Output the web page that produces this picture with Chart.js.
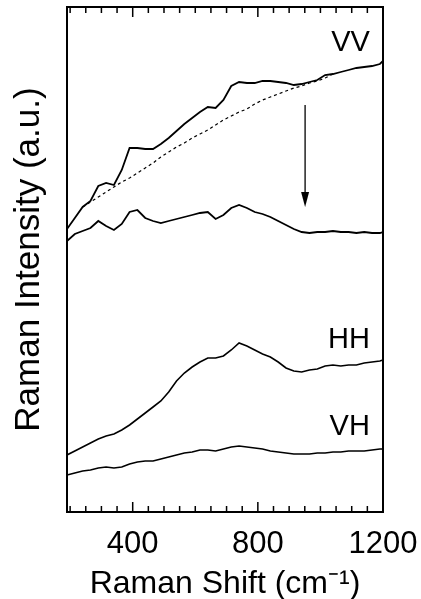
<!DOCTYPE html>
<html><head><meta charset="utf-8">
<script src="https://cdn.jsdelivr.net/npm/chart.js@4/dist/chart.umd.min.js"></script>
<style>html,body{margin:0;padding:0;background:#fff}#wrap{width:421px;height:599px}</style>
</head><body><div id="wrap"><canvas id="c" width="421" height="599"></canvas></div>
<script>
// Raman shift grid (cm-1)
const shifts = [190,215,240,265,290,315,340,365,390,415,440,465,490,515,540,565,590,615,640,665,690,715,740,765,790,815,840,865,890,915,940,965,990,1015,1040,1065,1090,1115,1140,1165,1190,1200];
// VV raw spectrum
const vvRaw = [283,294,305,311,326,329,327,342,364,364,363,363,368,374,381,388,394,400,405,404,412,426,430,429,429,431,431,430,429,427,428,430,432,437,438,440,442,444,445,446,448,451];
// VV after background subtraction
const vvSub = [271,278,281,284,291,286,282,288,300,302,294,291,289,291,293,295,297,299,300,293,297,304,307,304,300,298,295,291,287,283,280,279,280,280,281,280,280,279,280,279,279,280];
// fitted background (dashed)
const vvBackground = [null,null,305,310,315,320,325,330,334,339,344,349,355,360,365,369,374,378,382,387,392,396,400,403,408,412,415,418,421,424,426,429,431,434,438,null,null,null,null,null,null,null];
// HH spectrum
const hh = [57,61,65,69,73,76,78,82,87,93,99,105,111,120,131,139,145,150,154,154,156,162,169,166,162,158,155,150,144,141,140,142,143,146,147,146,147,147,149,150,151,152];
// VH spectrum
const vh = [37,39,41,42,44,45,44,45,48,50,51,51,53,55,57,59,60,62,62,61,63,65,66,65,64,63,61,60,59,58,58,58,59,59,60,60,61,61,61,62,63,63];

const xTickLabels = [400, 800, 1200];
const minorTicks = [200,250,300,350,400,450,500,550,600,650,700,750,800,850,900,950,1000,1050,1100,1150,1200];
const curveNames = ['VV','HH','VH'];
const curveNameX = 1158;
const curveNameY = [461, 164, 77];
const arrowX = 951, arrowFrom = 407, arrowTo = 305;

const FONT = "'Liberation Sans', Arial, Helvetica, sans-serif";

function pts(arr){ return shifts.map((s,i)=>({x:s, y:arr[i]})); }

const ds = (arr, extra) => Object.assign({
  data: pts(arr), borderColor:'#000', borderWidth:1.6, pointRadius:0, fill:false, tension:0, spanGaps:false
}, extra||{});

const decor = {
  id:'decor',
  afterDatasetsDraw(chart){
    const {ctx, chartArea:a, scales:{x,y}} = chart;
    ctx.save();
    ctx.strokeStyle='#000'; ctx.fillStyle='#000';
    ctx.lineWidth=1.5;
    minorTicks.forEach(v=>{
      const px = x.getPixelForValue(v);
      const len = xTickLabels.includes(v) ? 10 : 6;
      ctx.beginPath();
      ctx.moveTo(px, a.bottom); ctx.lineTo(px, a.bottom-len);
      ctx.moveTo(px, a.top); ctx.lineTo(px, a.top+len);
      ctx.stroke();
    });
    ctx.lineWidth=2;
    ctx.strokeRect(a.left, a.top, a.right-a.left, a.bottom-a.top);
    const ax = x.getPixelForValue(arrowX);
    const y0 = y.getPixelForValue(arrowFrom), y1 = y.getPixelForValue(arrowTo);
    ctx.lineWidth=1.3;
    ctx.beginPath(); ctx.moveTo(ax, y0); ctx.lineTo(ax, y1-12); ctx.stroke();
    ctx.beginPath(); ctx.moveTo(ax-4, y1-15); ctx.lineTo(ax+4, y1-15); ctx.lineTo(ax, y1); ctx.closePath(); ctx.fill();
    ctx.font = "29px " + FONT;
    ctx.textAlign='right'; ctx.textBaseline='alphabetic';
    curveNames.forEach((n,i)=>{
      ctx.fillText(n, x.getPixelForValue(curveNameX), y.getPixelForValue(curveNameY[i]));
    });
    ctx.restore();
  }
};

new Chart(document.getElementById('c'), {
  type:'line',
  data:{ datasets:[
    ds(vvRaw, {borderWidth:1.8}),
    ds(vvBackground, {borderWidth:1.2, borderDash:[3,3]}),
    ds(vvSub, {borderWidth:1.8}),
    ds(hh),
    ds(vh)
  ]},
  options:{
    responsive:false, animation:false, devicePixelRatio:1,
    layout:{padding:{left:0, top:7, right:38, bottom:0}},
    plugins:{legend:{display:false}, tooltip:{enabled:false}},
    scales:{
      x:{ type:'linear', min:190, max:1200,
        afterBuildTicks: s => { s.ticks = xTickLabels.map(v=>({value:v})); },
        afterFit: s => { s.height = 87; s.paddingLeft = 0; s.paddingRight = 0; },
        grid:{display:false}, border:{display:false},
        ticks:{ color:'#000', font:{family:FONT, size:31}, padding:6, maxRotation:0, autoSkip:false,
          callback: v => String(v) },
        title:{ display:true, text:'Raman Shift (cm\u207B\u00B9)', color:'#000', font:{family:FONT, size:32}, padding:{top:0,bottom:-4} }
      },
      y:{ min:0, max:505,
        afterFit: s => { s.width = 67; s.paddingTop = 0; s.paddingBottom = 0; },
        grid:{display:false}, border:{display:false},
        ticks:{display:false},
        title:{ display:true, text:'Raman Intensity (a.u.)', color:'#000', font:{family:FONT, size:35}, padding:{top:8,bottom:0} }
      }
    }
  },
  plugins:[decor]
});
</script>
</body></html>
